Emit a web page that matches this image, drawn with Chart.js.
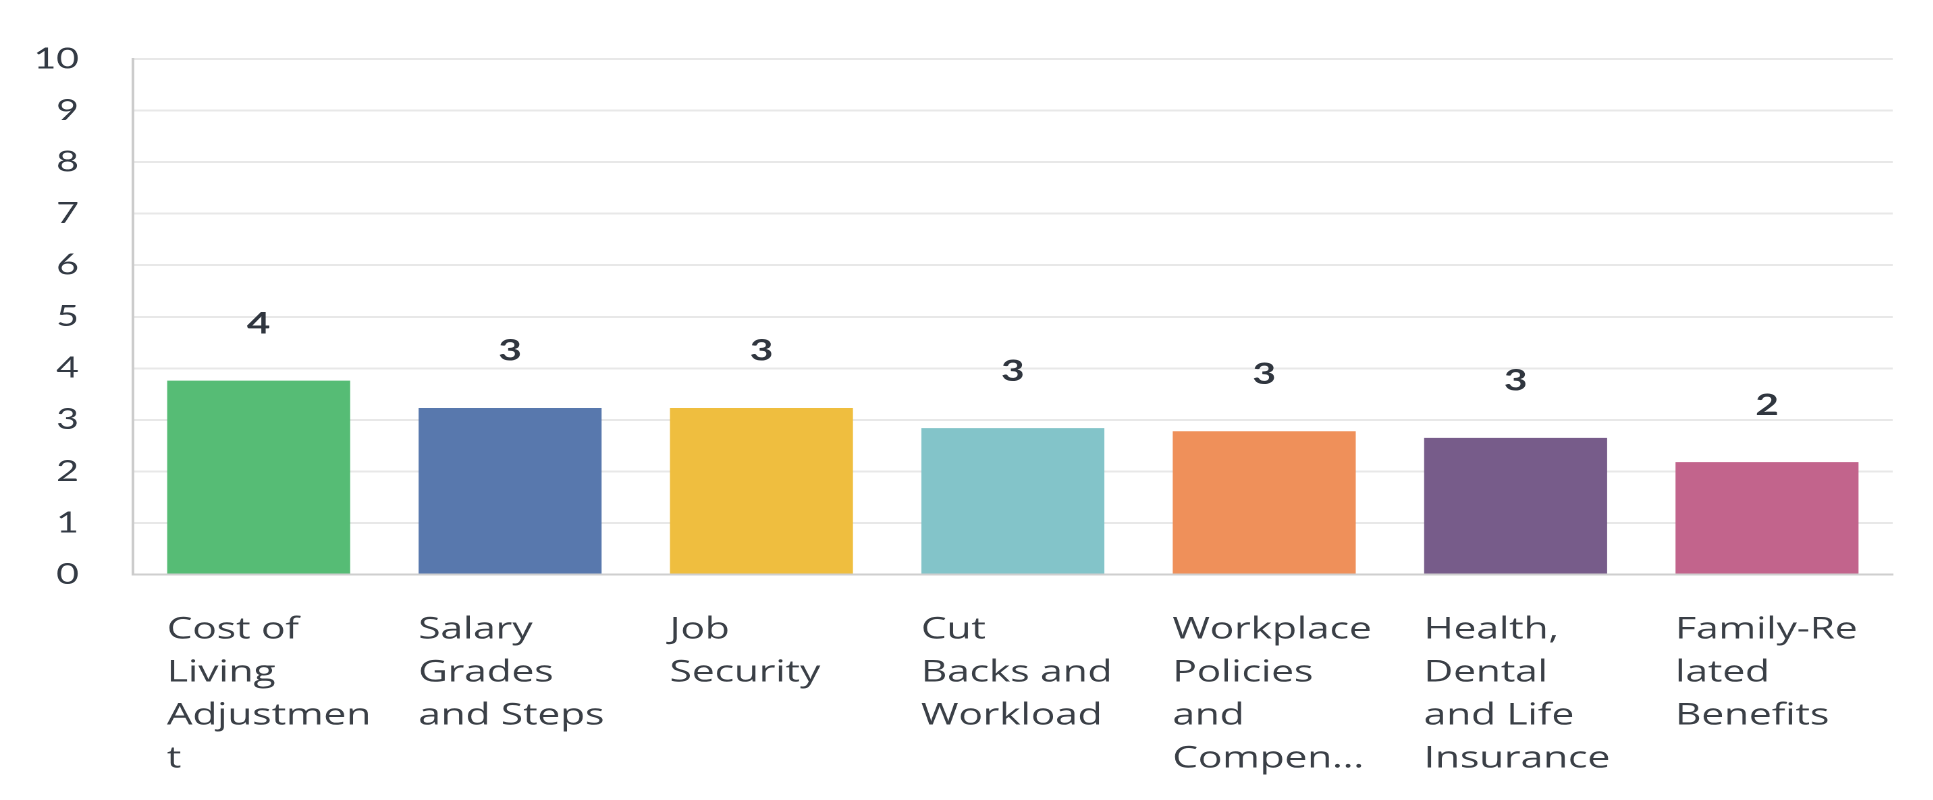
<!DOCTYPE html>
<html>
<head>
<meta charset="utf-8">
<script src="https://cdn.jsdelivr.net/npm/chart.js@4.4.1/dist/chart.umd.min.js"></script>
<style>
  html, body { margin: 0; padding: 0; background: #fff; overflow: hidden; }
  /* chart is laid out narrow, then widened to the page */
  #wrap { width: 1432px; height: 800px; transform: scaleX(1.35); transform-origin: 0 0; }
</style>
</head>
<body>
<div id="wrap"><canvas id="myBarChart"></canvas></div>
<script>
const categories = [
  'Cost of Living Adjustment',
  'Salary Grades and Steps',
  'Job Security',
  'Cut Backs and Workload',
  'Workplace Policies and Compensation',
  'Health, Dental and Life Insurance',
  'Family-Related Benefits'
];
const tickLabels = [
  ['Cost of', 'Living', 'Adjustmen', 't'],
  ['Salary', 'Grades', 'and Steps'],
  ['Job', 'Security'],
  ['Cut', 'Backs and', 'Workload'],
  ['Workplace', 'Policies', 'and', 'Compen...'],
  ['Health,', 'Dental', 'and Life', 'Insurance'],
  ['Family-Re', 'lated', 'Benefits']
];
const averages = [3.76, 3.23, 3.23, 2.84, 2.78, 2.65, 2.18];
const barColors = ['#56bc75', '#5878ad', '#efbe3f', '#83c4c9', '#ef905a', '#775c8a', '#c2648c'];

// rounded value written above each bar
const valueLabels = {
  id: 'valueLabels',
  afterDatasetsDraw(chart) {
    const ctx = chart.ctx;
    const meta = chart.getDatasetMeta(0);
    ctx.save();
    ctx.font = 'bold 30px Lato';
    ctx.fillStyle = '#30363f';
    ctx.textAlign = 'center';
    ctx.textBaseline = 'middle';
    meta.data.forEach((bar, i) => {
      ctx.fillText(Math.round(averages[i]), bar.x, bar.y - 57);
    });
    ctx.restore();
  }
};

const ctx = document.getElementById('myBarChart').getContext('2d');
new Chart(ctx, {
  type: 'bar',
  data: {
    labels: tickLabels,
    datasets: [{
      label: 'Average',
      data: averages,
      backgroundColor: barColors,
      borderWidth: 0,
      categoryPercentage: 1,
      barPercentage: 0.728
    }]
  },
  options: {
    responsive: true,
    maintainAspectRatio: false,
    animation: false,
    devicePixelRatio: 2,
    layout: { padding: { top: 59, right: 30, bottom: 0, left: 0 } },
    plugins: {
      legend: { display: false },
      tooltip: { enabled: false }
    },
    scales: {
      x: {
        grid: { display: false, drawTicks: false },
        border: { display: true, color: '#cfcfcf', width: 2 },
        afterFit: scale => {
          scale.height = 225.5;
          // labels hang right of their bars; don't let them shrink the plot
          scale.paddingLeft = 0;
          scale.paddingRight = 0;
        },
        ticks: {
          align: 'start',
          labelOffset: -68,
          padding: 34,
          autoSkip: false,
          maxRotation: 0,
          color: '#3a3f46',
          font: { family: 'Open Sans', size: 30, lineHeight: 1.433 }
        }
      },
      y: {
        min: 0,
        max: 10,
        grid: { color: '#e8e8e8', lineWidth: 2, drawTicks: false },
        border: { display: true, color: '#cccccc', width: 2 },
        afterFit: scale => { scale.width = 98.5; },
        ticks: {
          stepSize: 1,
          padding: 40,
          color: '#333a44',
          font: { family: 'Lato', size: 29 }
        }
      }
    }
  },
  plugins: [valueLabels]
});
</script>
</body>
</html>
